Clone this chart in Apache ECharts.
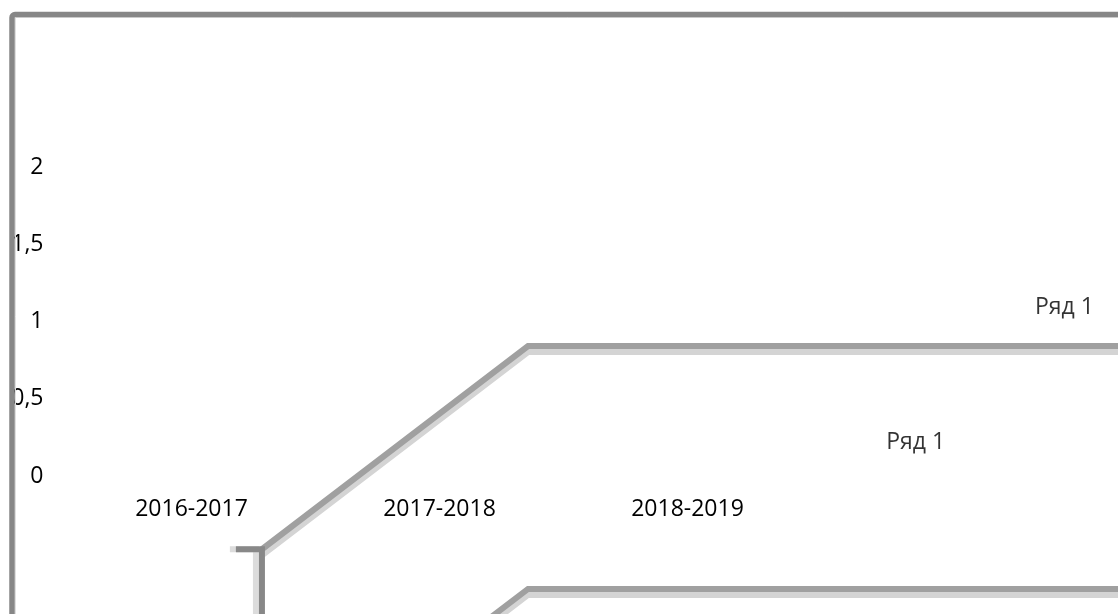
<!DOCTYPE html>
<html>
<head>
<meta charset="utf-8">
<script src="https://cdn.jsdelivr.net/npm/echarts@6/dist/echarts.min.js"></script>
<style>
html,body{margin:0;padding:0;background:#fff;}
#c{width:1118px;height:614px;}
</style>
</head>
<body>
<div id="c"></div>
<script>
// Categories and axis ticks
const categories = ['2016-2017', '2017-2018', '2018-2019'];
const yMin = 0, yMax = 2, yStep = 0.5;
const seriesName = 'Ряд 1';

// "Ряд 1" drawn as the (distorted) ribbon in the picture, in axis units
// x: category position (0 = first category), y: value
const ryad1FrontX = [0.284, 1.357, 3.7359];
const ryad1FrontY = [-0.5, 0.815, 0.815];
const ryad1DropX = [0.179, 0.284, 0.284];
const ryad1DropY = [-0.5, -0.5, -1.3];
const ryad1BackX = [0.284, 1.357, 3.7359];
const ryad1BackY = [-2.07, -0.757, -0.757];
// data label anchors for "Ряд 1"
const labelX = [3.52, 2.92];
const labelY = [1.065, 0.19];

const zip = (xs, ys) => xs.map((x, i) => [x, ys[i]]);

// layout of the category band (pixels) used to align the helper value axis
const W = 1118, gridLeft = 67.5, gridRight = 306.5;
const band = (W - gridLeft - gridRight) / categories.length;
const xMinFull = -0.5 - gridLeft / band;
const xMaxFull = xMinFull + W / band;

const FONT = '"Open Sans", "Noto Sans", sans-serif';
const chart = echarts.init(document.getElementById('c'), null, {renderer: 'canvas'});

const lineStyleMain = {
  color: '#a0a0a0', width: 6, cap: 'butt', join: 'miter',
  shadowColor: '#d4d4d4', shadowBlur: 0, shadowOffsetX: 0, shadowOffsetY: 6
};

chart.setOption({
  animation: false,
  backgroundColor: '#ffffff',
  grid: [
    {left: gridLeft, right: gridRight, top: 163, bottom: 142, containLabel: false},
    {left: 0, right: 0, top: 163, bottom: 142, containLabel: false}
  ],
  xAxis: [
    {
      type: 'category', data: categories, boundaryGap: true, gridIndex: 0,
      axisLine: {show: false}, axisTick: {show: false}, splitLine: {show: false},
      axisLabel: {margin: 26, color: '#000', fontSize: 23, fontFamily: FONT}
    },
    {
      type: 'value', min: xMinFull, max: xMaxFull, show: false, gridIndex: 1
    }
  ],
  yAxis: [
    {
      type: 'value', min: yMin, max: yMax, interval: yStep, gridIndex: 0,
      axisLine: {show: false}, axisTick: {show: false}, splitLine: {show: false},
      axisLabel: {
        margin: 24, color: '#000', fontSize: 23, fontFamily: FONT,
        verticalAlign: 'top', lineHeight: 8,
        formatter: v => String(v).replace('.', ',')
      }
    },
    {
      type: 'value', min: yMin, max: yMax, show: false, gridIndex: 1
    }
  ],
  series: [
    {
      name: seriesName, type: 'line', xAxisIndex: 1, yAxisIndex: 1, clip: false,
      data: zip(ryad1BackX, ryad1BackY), symbol: 'none',
      lineStyle: lineStyleMain, z: 2
    },
    {
      name: seriesName, type: 'line', xAxisIndex: 1, yAxisIndex: 1, clip: false,
      data: zip(ryad1FrontX, ryad1FrontY), symbol: 'none',
      lineStyle: lineStyleMain, z: 2
    },
    {
      name: seriesName, type: 'line', xAxisIndex: 1, yAxisIndex: 1, clip: false,
      data: zip(ryad1DropX, ryad1DropY), symbol: 'none',
      lineStyle: {color: '#888', width: 6, cap: 'butt', join: 'miter',
        shadowColor: '#dcdcdc', shadowBlur: 0, shadowOffsetX: -6, shadowOffsetY: 0},
      z: 3
    },
    {
      name: seriesName, type: 'scatter', xAxisIndex: 1, yAxisIndex: 1, clip: false,
      data: zip(labelX, labelY), symbolSize: 0,
      label: {show: true, position: 'inside', formatter: () => seriesName,
        color: '#000', fontSize: 23, fontFamily: FONT},
      z: 4
    }
  ],
  graphic: [
    {
      type: 'rect', z: 100, silent: true,
      shape: {x: 12, y: 14.5, width: 1300, height: 800, r: 3},
      style: {fill: null, stroke: '#878787', lineWidth: 5.5}
    },
    {
      type: 'rect', z: 99, silent: true,
      shape: {x: 15.5, y: 17.5, width: 1300, height: 800},
      style: {fill: null, stroke: '#e0e0e0', lineWidth: 1}
    }
  ]
});
</script>
</body>
</html>
